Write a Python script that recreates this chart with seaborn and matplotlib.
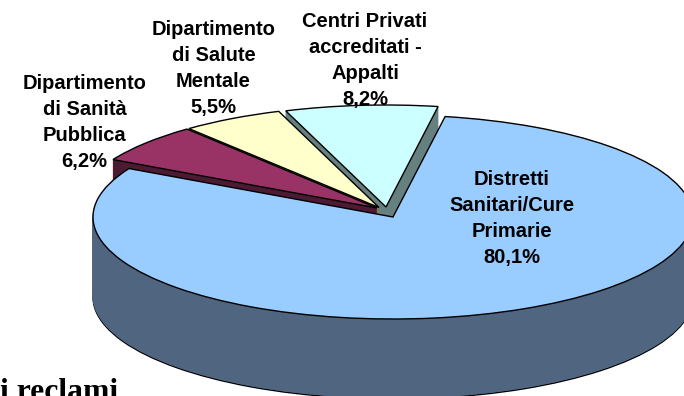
import matplotlib
matplotlib.use("Agg")
import matplotlib.pyplot as plt
import seaborn as sns

categories = ["Distretti\nSanitari/Cure\nPrimarie", "Dipartimento\ndi Sanità\nPubblica",
              "Dipartimento\ndi Salute\nMentale", "Centri Privati\naccreditati -\nAppalti"]
values = [80.1, 6.2, 5.5, 8.2]
value_labels = ["80,1%", "6,2%", "5,5%", "8,2%"]
top_colors = ["#99CCFF", "#993366", "#FFFFCC", "#CCFFFF"]
side_colors = ["#4F6580", "#4D1A33", "#808066", "#668080"]

W, H = 684, 396
RX, RY = 300.0, 102.0      # pie radii in pixels
DEPTH = 80                 # pie thickness in pixels
CX, CY = 393.0, 217.0      # main slice tip in pixels
# slice tips (pixels), drawn back to front
tips = {3: (386, 207), 2: (379, 207.5), 1: (377, 208), 0: (393, 217)}
label_pos = {0: (512, 218.5), 1: (84.5, 122.5), 2: (213.5, 68.5), 3: (365, 60.5)}

sns.set_theme(style="white")
plt.rcParams["font.family"] = ["Liberation Sans", "DejaVu Sans"]

fig = plt.figure(figsize=(W / 100, H / 100), dpi=100, facecolor="white")
ax = fig.add_axes([0, 0, 1, 1])


def to_data(px, py):
    return (px - CX) / RX, (CY - py) / RY


def draw_slice(i, center, color, edge, lw, zorder):
    wedges, _ = ax.pie(values, startangle=80, counterclock=False, radius=1,
                       center=center, colors=[color] * len(values),
                       wedgeprops=dict(edgecolor=edge, linewidth=lw))
    for j, w in enumerate(wedges):
        w.set_visible(j == i)
        w.set_zorder(zorder)


z = 1
for i in [3, 2, 1, 0]:
    cx, cy = to_data(*tips[i])
    for d in range(DEPTH, 0, -1):
        lowest = d == DEPTH
        draw_slice(i, (cx, cy - d / RY), side_colors[i],
                   "black" if lowest else side_colors[i], 1.0 if lowest else 0.6, z)
        z += 1
    draw_slice(i, (cx, cy), top_colors[i], "black", 1.0, z)
    z += 1

ax.set_aspect("auto")
x0, y1 = to_data(0, 0)
x1, y0 = to_data(W, H)
ax.set_xlim(x0, x1)
ax.set_ylim(y0, y1)
ax.axis("off")

for i, (cat, val) in enumerate(zip(categories, value_labels)):
    x, y = to_data(*label_pos[i])
    ax.text(x, y, f"{cat}\n{val}", ha="center", va="center", ma="center",
            fontsize=14.5, fontweight="bold", color="black", linespacing=1.48, zorder=z + 1)

x, y = to_data(0, 400.5)
ax.text(x, y, "i reclami", ha="left", va="baseline", family="Liberation Serif",
        fontsize=22.8, fontweight="bold", color="black", zorder=z + 1)

fig.savefig("out.png", dpi=100)
